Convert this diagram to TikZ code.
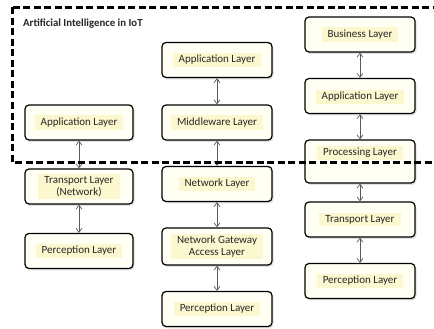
\documentclass[tikz,border=0pt]{standalone}
\usepackage{fontspec}
\setmainfont{Carlito}
\usetikzlibrary{arrows.meta,shadows}
\definecolor{boxfill}{HTML}{FFFFF4}
\definecolor{hilite}{HTML}{FBF8CF}
\tikzset{
  layer/.style={draw=black, line width=1.2pt, rounded corners=4pt, fill=boxfill,
    minimum width=108pt, minimum height=35pt, inner sep=0pt,
    drop shadow={opacity=0.25, shadow xshift=1.5pt, shadow yshift=-1.8pt}},
  tag/.style={fill=hilite, inner xsep=6pt, inner ysep=2.5pt, align=center,
    font=\fontsize{11}{11.5}\selectfont, text=black!85},
  link/.style={<->, >={Straight Barb[length=4pt, width=6pt]}, draw=black!65, line width=0.7pt},
  aiframe/.style={draw=black, line width=2.2pt, dash pattern=on 7pt off 3.5pt}
}
\begin{document}
\begin{tikzpicture}[x=1pt, y=-1pt]
\useasboundingbox (0,0) rectangle (434,329);
\fill[white] (0,0) rectangle (434,329);

% left stack
\node[layer] (la) at (79,122.5) {};
\node[layer] (lt) at (79,186.5) {};
\node[layer] (lp) at (79,251) {};
% middle stack
\node[layer, minimum width=110pt] (ma) at (217,60) {};
\node[layer, minimum width=110pt] (mm) at (217,122.5) {};
\node[layer, minimum width=110pt] (mn) at (217,184) {};
\node[layer, minimum width=110pt, minimum height=37pt] (mg) at (217,246.5) {};
\node[layer, minimum width=110pt] (mp) at (217,309) {};
% right stack
\node[layer, minimum width=110pt] (rb) at (360,34.5) {};
\node[layer, minimum width=110pt] (ra) at (360,96) {};
\node[layer, minimum width=110pt, minimum height=43pt] (rc) at (360,161.5) {};
\node[layer, minimum width=110pt] (rt) at (360,219.5) {};
\node[layer, minimum width=110pt] (rp) at (360,281) {};

% labels
\node[tag] (tla) at (la.center) {Application Layer};
\node[tag] (tlt) at (lt.center) {Transport Layer\\(Network)};
\node[tag] (tlp) at (lp.center) {Perception Layer};
\node[tag] (tma) at (ma.center) {Application Layer};
\node[tag] (tmm) at (mm.center) {Middleware Layer};
\node[tag] (tmn) at (mn.center) {Network Layer};
\node[tag] (tmg) at (mg.center) {Network Gateway\\Access Layer};
\node[tag] (tmp) at (mp.center) {Perception Layer};
\node[tag] (trb) at (rb.center) {Business Layer};
\node[tag] (tra) at ([yshift=-1pt]ra.center) {Application Layer};
\node[tag] (trc) at ([yshift=8.5pt]rc.center) {Processing Layer};
\node[tag] (trt) at (rt.center) {Transport Layer};
\node[tag] (trp) at (rp.center) {Perception Layer};

% connectors
\draw[link] (la.south) -- (lt.north);
\draw[link] (lt.south) -- (lp.north);
\draw[link] (ma.south) -- (mm.north);
\draw[link] (mm.south) -- (mn.north);
\draw[link] (mn.south) -- (mg.north);
\draw[link] (mg.south) -- (mp.north);
\draw[link] (rb.south) -- (ra.north);
\draw[link] (ra.south) -- (rc.north);
\draw[link] (rc.south) -- (rt.north);
\draw[link] (rt.south) -- (rp.north);

% AI boundary
\draw[aiframe] (12.5,7.5) -- (445,7.5) (12.5,7.5) -- (12.5,162.5) -- (445,162.5);
\node[anchor=west, font=\bfseries\fontsize{10.8}{11}\selectfont, text=black!85, inner sep=0pt] (title) at (23,23.5) {Artificial Intelligence in IoT};
\end{tikzpicture}
\end{document}
